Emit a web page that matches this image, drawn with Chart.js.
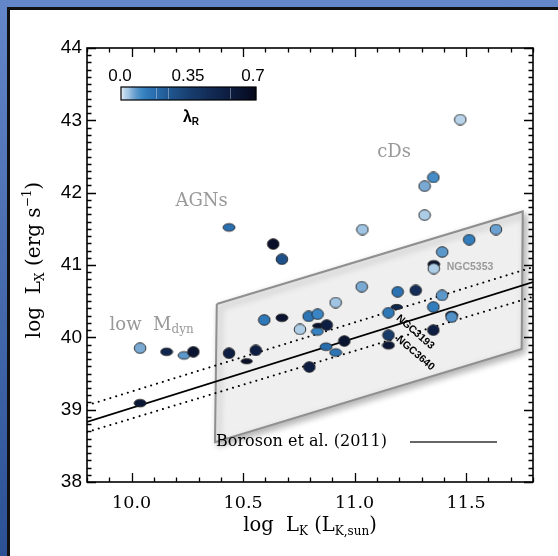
<!DOCTYPE html>
<html>
<head>
<meta charset="utf-8">
<script src="https://cdn.jsdelivr.net/npm/chart.js@4.4.0/dist/chart.umd.min.js"></script>
<style>
  html, body { margin: 0; padding: 0; background: #fff; }
  #frame { position: absolute; left: 0; top: 0; width: 558px; height: 556px; overflow: hidden;
           background: linear-gradient(#6387c8, #2b5094); }
  #inner { position: absolute; left: 7px; top: 7px; right: -10px; bottom: -10px; background: #fff;
           border-left: 3px solid #111; border-top: 3px solid #111; }
  #c { position: absolute; left: 0; top: 0; }
</style>
</head>
<body>
<div id="frame"><div id="inner"></div></div>
<canvas id="c" width="558" height="556"></canvas>
<script>
// axes
const xMin = 9.8, xMax = 11.8, yMin = 38, yMax = 44;
const xTickValues = [10.0, 10.5, 11.0, 11.5];
const yTickValues = [38, 39, 40, 41, 42, 43, 44];

// galaxies : log L_K, log L_X, lambda_R, marker (0 round, 1 flat, 2 bar)
// the first ones are drawn behind their neighbours
const logLK = [11.355, 11.435, 10.837, 11.189,
  10.437, 10.635, 10.674, 11.474, 11.353, 11.314, 11.314, 11.035, 11.634, 11.514,
  11.393, 11.355, 11.032, 11.193, 11.274, 11.392, 11.353, 11.152, 11.435, 11.353,
  11.152, 11.152, 10.915, 10.954, 10.872, 10.915, 10.797, 10.595, 10.674, 10.794,
  10.834, 10.755, 10.833, 10.875, 10.437, 10.557, 10.516, 10.038, 10.157, 10.235,
  10.277, 10.038];
const logLX = [41.01, 40.31, 40.16, 40.42,
  41.52, 41.29, 41.08, 43.01, 42.21, 42.09, 41.69, 41.49, 41.49, 41.35,
  41.18, 40.95, 40.70, 40.63, 40.65, 40.58, 40.42, 40.34, 40.28, 40.10,
  40.03, 39.89, 40.48, 39.95, 39.87, 39.79, 39.59, 40.24, 40.27, 40.29,
  40.32, 40.11, 40.08, 40.17, 39.78, 39.82, 39.67, 39.85, 39.80, 39.75,
  39.80, 39.09];
const lambdaR = [0.62, 0.58, 0.62, 0.50,
  0.17, 0.65, 0.27, 0.02, 0.10, 0.06, 0.03, 0.04, 0.07, 0.13,
  0.08, 0.03, 0.06, 0.16, 0.45, 0.08, 0.13, 0.14, 0.09, 0.55,
  0.38, 0.60, 0.04, 0.62, 0.18, 0.15, 0.55, 0.14, 0.62, 0.15,
  0.11, 0.03, 0.12, 0.55, 0.55, 0.55, 0.65, 0.06, 0.50, 0.08,
  0.62, 0.60];
const markerShape = [1, 1, 2, 2,
  1, 0, 0, 0, 0, 0, 0, 0, 0, 0,
  0, 0, 0, 0, 0, 0, 0, 0, 0, 0,
  0, 1, 0, 0, 1, 1, 0, 0, 1, 0,
  0, 0, 1, 0, 0, 0, 2, 0, 1, 1,
  0, 1];

// fit and its errors
const fitX = [9.8, 11.8];
const fitY = [38.83, 40.765];
const fitUpperY = [39.06, 40.97];
const fitLowerY = [38.69, 40.56];

// Boroson et al. (2011) region
const borosonX = [10.382, 11.754, 11.749, 10.374, 10.382];
const borosonY = [40.46, 41.74, 39.84, 38.55, 40.46];

// labels
const notes = [
  { text: 'NGC5353', x: 11.413, y: 40.97, color: '#9a9a9a', rot: 0 },
  { text: 'NGC3193', x: 11.193, y: 40.285, color: '#000', rot: 0.72 },
  { text: 'NGC3640', x: 11.193, y: 39.99, color: '#000', rot: 0.71 }
];

const cmapStops = [
  [0.00, '#e9eff7'], [0.02, '#b9d4ea'], [0.04, '#a0c4e2'], [0.06, '#7aaad4'],
  [0.08, '#5c97c9'], [0.11, '#3a86c4'], [0.14, '#2f78b8'], [0.17, '#2a6fb0'],
  [0.25, '#1f568f'], [0.35, '#183f70'], [0.45, '#132d58'], [0.58, '#0c1a3c'],
  [0.70, '#05081a']
];

function hexRgb(h) {
  return [parseInt(h.slice(1, 3), 16), parseInt(h.slice(3, 5), 16), parseInt(h.slice(5, 7), 16)];
}
function lambdaColor(v) {
  for (let i = 1; i < cmapStops.length; i++) {
    if (v <= cmapStops[i][0]) {
      const a = cmapStops[i - 1], b = cmapStops[i];
      const t = (v - a[0]) / (b[0] - a[0]);
      const ca = hexRgb(a[1]), cb = hexRgb(b[1]);
      const c = ca.map((q, k) => Math.round(q + (cb[k] - q) * t));
      return 'rgb(' + c.join(',') + ')';
    }
  }
  return cmapStops[cmapStops.length - 1][1];
}

function makeMarker(color, shape) {
  const c = document.createElement('canvas');
  c.width = 14; c.height = 12;
  const g = c.getContext('2d');
  g.beginPath();
  if (shape === 1) g.ellipse(7, 6, 6, 3.8, 0, 0, Math.PI * 2);
  else if (shape === 2) g.ellipse(7, 6, 5.6, 2.6, 0, 0, Math.PI * 2);
  else g.ellipse(7, 6, 5.8, 5.3, 0, 0, Math.PI * 2);
  g.fillStyle = color;
  g.fill();
  g.lineWidth = 0.9;
  g.strokeStyle = '#222';
  g.stroke();
  return c;
}

function toPoints(xs, ys) {
  return xs.map((x, i) => ({ x: x, y: ys[i] }));
}

// text with sub/superscripts
function drawRich(ctx, segs, x, y) {
  let w = 0;
  segs.forEach(s => { ctx.font = s.font; w += ctx.measureText(s.t).width; });
  let cx = x - w / 2;
  segs.forEach(s => {
    ctx.font = s.font;
    ctx.fillText(s.t, cx, y + (s.dy || 0));
    cx += ctx.measureText(s.t).width;
  });
}

const serif = '"DejaVu Serif", serif';

const shadowPlugin = {
  id: 'shadow',
  beforeDatasetsDraw(chart) {
    const c = chart.ctx;
    c.save();
    c.shadowColor = 'rgba(0,0,0,0.3)';
    c.shadowBlur = 7;
    c.shadowOffsetX = 3;
    c.shadowOffsetY = 3;
  },
  afterDatasetDraw(chart, args) {
    if (args.index === 3) chart.ctx.restore();
  }
};

const decorPlugin = {
  id: 'decor',
  afterDraw(chart) {
    const ctx = chart.ctx;
    const a = chart.chartArea;
    const xs = chart.scales.x, ys = chart.scales.y;

    // frame and inward ticks on the four sides
    ctx.save();
    ctx.strokeStyle = '#000';
    ctx.lineWidth = 1.6;
    ctx.strokeRect(a.left, a.top, a.right - a.left, a.bottom - a.top);
    ctx.lineWidth = 1.3;
    ctx.beginPath();
    for (let k = 0; k <= 20; k++) {
      const v = xMin + k * 0.1;
      const major = xTickValues.some(t => Math.abs(t - v) < 1e-6);
      const len = major ? 9 : 4.5;
      const px = Math.round(xs.getPixelForValue(v)) + 0.5;
      ctx.moveTo(px, a.bottom); ctx.lineTo(px, a.bottom - len);
      ctx.moveTo(px, a.top); ctx.lineTo(px, a.top + len);
    }
    for (let k = 0; k <= 60; k++) {
      const v = yMin + k * 0.1;
      const major = k % 10 === 0;
      const len = major ? 9 : 4.5;
      const py = Math.round(ys.getPixelForValue(v)) + 0.5;
      ctx.moveTo(a.left, py); ctx.lineTo(a.left + len, py);
      ctx.moveTo(a.right, py); ctx.lineTo(a.right - len, py);
    }
    ctx.stroke();
    ctx.restore();

    // colour bar
    const bx = a.left + 34, by = a.top + 39, bw = 135, bh = 13;
    for (let i = 0; i < bw; i++) {
      ctx.fillStyle = lambdaColor(0.7 * (i + 0.5) / bw);
      ctx.fillRect(bx + i, by, 1.2, bh);
    }
    ctx.strokeStyle = 'rgba(255,255,255,0.35)';
    ctx.lineWidth = 1;
    [0.18, 0.245, 0.565].forEach(v => {
      const px = Math.round(bx + bw * v / 0.7) + 0.5;
      ctx.beginPath(); ctx.moveTo(px, by + 1); ctx.lineTo(px, by + bh - 1); ctx.stroke();
    });
    ctx.strokeStyle = '#000';
    ctx.lineWidth = 1.2;
    ctx.strokeRect(bx, by, bw, bh);
    ctx.fillStyle = '#000';
    ctx.textAlign = 'center';
    ctx.textBaseline = 'middle';
    ctx.font = '17px "Liberation Sans", sans-serif';
    ctx.fillText('0.0', bx - 1, by - 11);
    ctx.fillText('0.35', bx + 67, by - 11);
    ctx.fillText('0.7', bx + 132, by - 11);
    ctx.textAlign = 'left';
    drawRich(ctx, [
      { t: 'λ', font: 'bold 16px "Liberation Sans", sans-serif' },
      { t: 'R', font: 'bold 10px "Liberation Sans", sans-serif', dy: 4 }
    ], bx + 70, by + 31);

    // axis titles
    ctx.fillStyle = '#000';
    ctx.textBaseline = 'alphabetic';
    drawRich(ctx, [
      { t: 'log  L', font: '19.5px ' + serif },
      { t: 'K', font: '12px ' + serif, dy: 4 },
      { t: ' (L', font: '19.5px ' + serif },
      { t: 'K,sun', font: '12px ' + serif, dy: 4 },
      { t: ')', font: '19.5px ' + serif }
    ], (a.left + a.right) / 2, 531);
    ctx.save();
    ctx.translate(40, 260);
    ctx.rotate(-Math.PI / 2);
    drawRich(ctx, [
      { t: 'log  L', font: '20px ' + serif },
      { t: 'X', font: '12px ' + serif, dy: 4 },
      { t: ' (erg s', font: '20px ' + serif },
      { t: '−1', font: '12px ' + serif, dy: -9 },
      { t: ')', font: '20px ' + serif }
    ], 0, 0);
    ctx.restore();

    // group names
    ctx.fillStyle = '#999';
    ctx.textBaseline = 'middle';
    ctx.font = '18px ' + serif;
    ctx.textAlign = 'center';
    ctx.fillText('AGNs', xs.getPixelForValue(10.314), ys.getPixelForValue(41.875));
    ctx.fillText('cDs', xs.getPixelForValue(11.177), ys.getPixelForValue(42.56));
    ctx.textAlign = 'left';
    drawRich(ctx, [
      { t: 'low  M', font: '18px ' + serif },
      { t: 'dyn', font: '12px ' + serif, dy: 5 }
    ], xs.getPixelForValue(9.906) + 41, ys.getPixelForValue(40.17));

    // galaxy names
    notes.forEach(n => {
      ctx.save();
      ctx.translate(xs.getPixelForValue(n.x), ys.getPixelForValue(n.y));
      ctx.rotate(n.rot);
      ctx.fillStyle = n.color;
      ctx.font = 'bold 10.5px "Liberation Sans", sans-serif';
      ctx.textAlign = 'left';
      ctx.textBaseline = 'middle';
      ctx.fillText(n.text, 0, 0);
      ctx.restore();
    });

    // legend of the shaded region
    ctx.fillStyle = '#000';
    ctx.font = '16px ' + serif;
    ctx.textAlign = 'left';
    ctx.textBaseline = 'middle';
    ctx.fillText('Boroson et al. (2011)', 216, 442);
    ctx.strokeStyle = '#666';
    ctx.lineWidth = 2;
    ctx.beginPath(); ctx.moveTo(410, 442); ctx.lineTo(497, 442); ctx.stroke();
  }
};

const markers = lambdaR.map((v, i) => makeMarker(lambdaColor(v), markerShape[i]));

new Chart(document.getElementById('c'), {
  type: 'scatter',
  data: {
    datasets: [
      {
        label: 'galaxies',
        data: toPoints(logLK, logLX),
        pointStyle: markers,
        pointRadius: 6,
        order: 0
      },
      {
        label: 'fit',
        data: toPoints(fitX, fitY),
        showLine: true,
        borderColor: '#000',
        borderWidth: 1.8,
        pointRadius: 0,
        order: 1
      },
      {
        label: 'fit upper',
        data: toPoints(fitX, fitUpperY),
        showLine: true,
        borderColor: '#000',
        borderWidth: 2,
        borderDash: [0.1, 6],
        borderCapStyle: 'round',
        pointRadius: 0,
        order: 1
      },
      {
        label: 'Boroson et al. (2011)',
        data: toPoints(borosonX, borosonY),
        showLine: true,
        fill: 'shape',
        backgroundColor: '#efefef',
        borderColor: '#8f8f8f',
        borderWidth: 2,
        pointRadius: 0,
        order: 3
      },
      {
        label: 'fit lower',
        data: toPoints(fitX, fitLowerY),
        showLine: true,
        borderColor: '#000',
        borderWidth: 2,
        borderDash: [0.1, 6],
        borderCapStyle: 'round',
        pointRadius: 0,
        order: 1
      }
    ]
  },
  options: {
    responsive: false,
    animation: false,
    layout: { padding: { left: 0, top: 48, right: 25, bottom: 0 } },
    plugins: { legend: { display: false }, tooltip: { enabled: false } },
    scales: {
      x: {
        type: 'linear', min: xMin, max: xMax,
        grid: { display: false, drawTicks: false },
        border: { display: false },
        afterBuildTicks: s => { s.ticks = xTickValues.map(v => ({ value: v })); },
        afterFit: s => { s.height = 74; },
        ticks: {
          padding: 11, color: '#000',
          font: { family: 'DejaVu Serif', size: 17.5 },
          callback: v => v.toFixed(1)
        }
      },
      y: {
        type: 'linear', min: yMin, max: yMax,
        grid: { display: false, drawTicks: false },
        border: { display: false },
        afterBuildTicks: s => { s.ticks = yTickValues.map(v => ({ value: v })); },
        afterFit: s => { s.width = 87; },
        ticks: {
          padding: 5, color: '#000',
          font: { family: 'Liberation Sans', size: 19 }
        }
      }
    }
  },
  plugins: [shadowPlugin, decorPlugin]
});
</script>
</body>
</html>
